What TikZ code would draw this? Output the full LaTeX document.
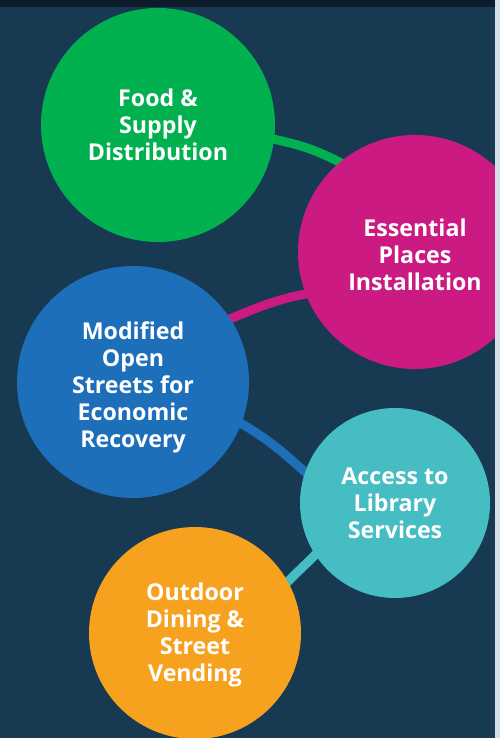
\documentclass[tikz,border=0pt]{standalone}
\usepackage{fontspec}
\setmainfont{Open Sans}
\definecolor{bgnavy}{RGB}{23,58,82}
\definecolor{topband}{RGB}{12,27,41}
\definecolor{sidestrip}{RGB}{214,222,230}
\definecolor{cgreen}{RGB}{1,177,80}
\definecolor{cmagenta}{RGB}{203,27,130}
\definecolor{cblue}{RGB}{30,111,186}
\definecolor{cteal}{RGB}{70,189,195}
\definecolor{corange}{RGB}{247,162,30}
\pgfdeclarelayer{bg}
\pgfsetlayers{bg,main}
\tikzset{
  bubble/.style={circle,inner sep=0pt,draw=none,text=white,align=center,
    font=\fontsize{23.2}{27}\selectfont\bfseries},
  link/.style={line width=9pt,shorten <=-5pt,shorten >=-5pt}
}
\begin{document}
\begin{tikzpicture}[x=1pt,y=1pt]
\useasboundingbox (0,0) rectangle (500,738);
\node[bubble,fill=cgreen,minimum size=234pt] (green) at (158,613) {Food \&\\Supply\\Distribution};
\node[bubble,fill=cmagenta,minimum size=234pt,text height=77.6pt,text depth=0pt] (magenta) at (415,486) {Essential\\Places\\Installation};
\node[bubble,fill=cblue,minimum size=232pt,text height=132pt,text depth=0pt] (blue) at (133,356) {Modified\\Open\\Streets for\\Economic\\Recovery};
\node[bubble,fill=cteal,minimum size=190pt,text depth=0pt] (teal) at (395,235) {Access to\\Library\\Services};
\node[bubble,fill=corange,minimum size=212pt,text depth=1.5pt] (orange) at (195,105) {Outdoor\\Dining \&\\Street\\Vending};
\begin{pgfonlayer}{bg}
\fill[bgnavy] (0,0) rectangle (500,738);
\draw[link,cgreen] (green.-7) to[out=-12,in=152] (magenta.130);
\draw[link,cmagenta] (magenta.201) to[out=190,in=22] (blue.33);
\draw[link,cblue] (blue.-21) to[out=-30,in=138] (teal.161);
\draw[link,cteal] (teal.213) to[out=226,in=46] (orange.29);
\end{pgfonlayer}
\fill[topband] (0,731) rectangle (500,738);
\fill[sidestrip] (495,0) rectangle (500,738);
\end{tikzpicture}
\end{document}
